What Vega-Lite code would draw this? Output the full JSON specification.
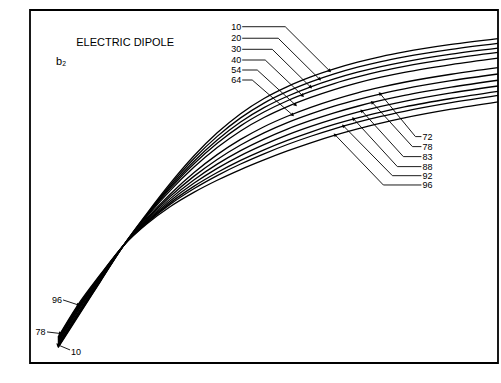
{
  "$schema": "https://vega.github.io/schema/vega-lite/v6.json",
  "width": 468,
  "height": 353,
  "autosize": "none",
  "padding": {"left": 30, "top": 10, "right": 3, "bottom": 20},
  "background": "white",
  "config": {
    "view": {"stroke": "black", "strokeWidth": 1.8},
    "axis": {"grid": false, "domain": false, "labelFont": "Liberation Sans", "labelFontSize": 10, "labelColor": "black", "titleFont": "Liberation Sans", "titleColor": "black", "titleFontWeight": "normal", "titleFontSize": 10}
  },
  "datasets": {
    "curves": [
      {"z":"10","k":0.3,"b":-1.87},{"z":"10","k":0.5,"b":-1.62},{"z":"10","k":0.75,"b":-1.31},{"z":"10","k":1,"b":-1},{"z":"10","k":1.25,"b":-0.728},{"z":"10","k":1.5,"b":-0.472},{"z":"10","k":1.75,"b":-0.241},{"z":"10","k":2,"b":-0.044},{"z":"10","k":2.25,"b":0.119},{"z":"10","k":2.5,"b":0.248},{"z":"10","k":2.75,"b":0.349},{"z":"10","k":3,"b":0.431},{"z":"10","k":3.25,"b":0.499},{"z":"10","k":3.5,"b":0.556},{"z":"10","k":3.75,"b":0.604},{"z":"10","k":4,"b":0.644},{"z":"10","k":4.5,"b":0.707},{"z":"10","k":5,"b":0.757},
      {"z":"20","k":0.3,"b":-1.863},{"z":"20","k":0.5,"b":-1.613},{"z":"20","k":0.75,"b":-1.306},{"z":"20","k":1,"b":-1},{"z":"20","k":1.25,"b":-0.735},{"z":"20","k":1.5,"b":-0.487},{"z":"20","k":1.75,"b":-0.264},{"z":"20","k":2,"b":-0.074},{"z":"20","k":2.25,"b":0.083},{"z":"20","k":2.5,"b":0.209},{"z":"20","k":2.75,"b":0.308},{"z":"20","k":3,"b":0.389},{"z":"20","k":3.25,"b":0.457},{"z":"20","k":3.5,"b":0.514},{"z":"20","k":3.75,"b":0.562},{"z":"20","k":4,"b":0.602},{"z":"20","k":4.5,"b":0.666},{"z":"20","k":5,"b":0.717},
      {"z":"30","k":0.3,"b":-1.857},{"z":"30","k":0.5,"b":-1.605},{"z":"30","k":0.75,"b":-1.301},{"z":"30","k":1,"b":-1},{"z":"30","k":1.25,"b":-0.741},{"z":"30","k":1.5,"b":-0.502},{"z":"30","k":1.75,"b":-0.287},{"z":"30","k":2,"b":-0.104},{"z":"30","k":2.25,"b":0.048},{"z":"30","k":2.5,"b":0.17},{"z":"30","k":2.75,"b":0.267},{"z":"30","k":3,"b":0.347},{"z":"30","k":3.25,"b":0.414},{"z":"30","k":3.5,"b":0.471},{"z":"30","k":3.75,"b":0.519},{"z":"30","k":4,"b":0.56},{"z":"30","k":4.5,"b":0.625},{"z":"30","k":5,"b":0.676},
      {"z":"40","k":0.3,"b":-1.85},{"z":"40","k":0.5,"b":-1.598},{"z":"40","k":0.75,"b":-1.297},{"z":"40","k":1,"b":-1},{"z":"40","k":1.25,"b":-0.748},{"z":"40","k":1.5,"b":-0.516},{"z":"40","k":1.75,"b":-0.309},{"z":"40","k":2,"b":-0.133},{"z":"40","k":2.25,"b":0.015},{"z":"40","k":2.5,"b":0.133},{"z":"40","k":2.75,"b":0.229},{"z":"40","k":3,"b":0.308},{"z":"40","k":3.25,"b":0.375},{"z":"40","k":3.5,"b":0.431},{"z":"40","k":3.75,"b":0.48},{"z":"40","k":4,"b":0.521},{"z":"40","k":4.5,"b":0.586},{"z":"40","k":5,"b":0.639},
      {"z":"54","k":0.3,"b":-1.842},{"z":"54","k":0.5,"b":-1.589},{"z":"54","k":0.75,"b":-1.291},{"z":"54","k":1,"b":-1},{"z":"54","k":1.25,"b":-0.756},{"z":"54","k":1.5,"b":-0.533},{"z":"54","k":1.75,"b":-0.337},{"z":"54","k":2,"b":-0.169},{"z":"54","k":2.25,"b":-0.028},{"z":"54","k":2.5,"b":0.086},{"z":"54","k":2.75,"b":0.179},{"z":"54","k":3,"b":0.257},{"z":"54","k":3.25,"b":0.324},{"z":"54","k":3.5,"b":0.381},{"z":"54","k":3.75,"b":0.429},{"z":"54","k":4,"b":0.47},{"z":"54","k":4.5,"b":0.536},{"z":"54","k":5,"b":0.591},
      {"z":"64","k":0.3,"b":-1.829},{"z":"64","k":0.5,"b":-1.574},{"z":"64","k":0.75,"b":-1.282},{"z":"64","k":1,"b":-1},{"z":"64","k":1.25,"b":-0.769},{"z":"64","k":1.5,"b":-0.563},{"z":"64","k":1.75,"b":-0.383},{"z":"64","k":2,"b":-0.229},{"z":"64","k":2.25,"b":-0.1},{"z":"64","k":2.5,"b":0.008},{"z":"64","k":2.75,"b":0.097},{"z":"64","k":3,"b":0.173},{"z":"64","k":3.25,"b":0.239},{"z":"64","k":3.5,"b":0.296},{"z":"64","k":3.75,"b":0.344},{"z":"64","k":4,"b":0.386},{"z":"64","k":4.5,"b":0.454},{"z":"64","k":5,"b":0.51},
      {"z":"72","k":0.3,"b":-1.82},{"z":"72","k":0.5,"b":-1.564},{"z":"72","k":0.75,"b":-1.276},{"z":"72","k":1,"b":-1},{"z":"72","k":1.25,"b":-0.778},{"z":"72","k":1.5,"b":-0.583},{"z":"72","k":1.75,"b":-0.414},{"z":"72","k":2,"b":-0.27},{"z":"72","k":2.25,"b":-0.147},{"z":"72","k":2.5,"b":-0.044},{"z":"72","k":2.75,"b":0.043},{"z":"72","k":3,"b":0.117},{"z":"72","k":3.25,"b":0.183},{"z":"72","k":3.5,"b":0.239},{"z":"72","k":3.75,"b":0.288},{"z":"72","k":4,"b":0.33},{"z":"72","k":4.5,"b":0.399},{"z":"72","k":5,"b":0.456},
      {"z":"78","k":0.3,"b":-1.811},{"z":"78","k":0.5,"b":-1.554},{"z":"78","k":0.75,"b":-1.27},{"z":"78","k":1,"b":-1},{"z":"78","k":1.25,"b":-0.787},{"z":"78","k":1.5,"b":-0.603},{"z":"78","k":1.75,"b":-0.445},{"z":"78","k":2,"b":-0.31},{"z":"78","k":2.25,"b":-0.195},{"z":"78","k":2.5,"b":-0.097},{"z":"78","k":2.75,"b":-0.012},{"z":"78","k":3,"b":0.061},{"z":"78","k":3.25,"b":0.126},{"z":"78","k":3.5,"b":0.182},{"z":"78","k":3.75,"b":0.231},{"z":"78","k":4,"b":0.274},{"z":"78","k":4.5,"b":0.344},{"z":"78","k":5,"b":0.403},
      {"z":"83","k":0.3,"b":-1.803},{"z":"83","k":0.5,"b":-1.545},{"z":"83","k":0.75,"b":-1.265},{"z":"83","k":1,"b":-1},{"z":"83","k":1.25,"b":-0.795},{"z":"83","k":1.5,"b":-0.621},{"z":"83","k":1.75,"b":-0.473},{"z":"83","k":2,"b":-0.346},{"z":"83","k":2.25,"b":-0.237},{"z":"83","k":2.5,"b":-0.144},{"z":"83","k":2.75,"b":-0.061},{"z":"83","k":3,"b":0.011},{"z":"83","k":3.25,"b":0.075},{"z":"83","k":3.5,"b":0.132},{"z":"83","k":3.75,"b":0.18},{"z":"83","k":4,"b":0.223},{"z":"83","k":4.5,"b":0.295},{"z":"83","k":5,"b":0.354},
      {"z":"88","k":0.3,"b":-1.795},{"z":"88","k":0.5,"b":-1.537},{"z":"88","k":0.75,"b":-1.26},{"z":"88","k":1,"b":-1},{"z":"88","k":1.25,"b":-0.802},{"z":"88","k":1.5,"b":-0.637},{"z":"88","k":1.75,"b":-0.499},{"z":"88","k":2,"b":-0.381},{"z":"88","k":2.25,"b":-0.278},{"z":"88","k":2.5,"b":-0.188},{"z":"88","k":2.75,"b":-0.108},{"z":"88","k":3,"b":-0.037},{"z":"88","k":3.25,"b":0.027},{"z":"88","k":3.5,"b":0.083},{"z":"88","k":3.75,"b":0.132},{"z":"88","k":4,"b":0.176},{"z":"88","k":4.5,"b":0.248},{"z":"88","k":5,"b":0.309},
      {"z":"92","k":0.3,"b":-1.789},{"z":"92","k":0.5,"b":-1.53},{"z":"92","k":0.75,"b":-1.256},{"z":"92","k":1,"b":-1},{"z":"92","k":1.25,"b":-0.808},{"z":"92","k":1.5,"b":-0.65},{"z":"92","k":1.75,"b":-0.519},{"z":"92","k":2,"b":-0.407},{"z":"92","k":2.25,"b":-0.309},{"z":"92","k":2.5,"b":-0.222},{"z":"92","k":2.75,"b":-0.143},{"z":"92","k":3,"b":-0.073},{"z":"92","k":3.25,"b":-0.01},{"z":"92","k":3.5,"b":0.047},{"z":"92","k":3.75,"b":0.096},{"z":"92","k":4,"b":0.139},{"z":"92","k":4.5,"b":0.212},{"z":"92","k":5,"b":0.274},
      {"z":"96","k":0.3,"b":-1.78},{"z":"96","k":0.5,"b":-1.52},{"z":"96","k":0.75,"b":-1.25},{"z":"96","k":1,"b":-1},{"z":"96","k":1.25,"b":-0.817},{"z":"96","k":1.5,"b":-0.67},{"z":"96","k":1.75,"b":-0.55},{"z":"96","k":2,"b":-0.447},{"z":"96","k":2.25,"b":-0.356},{"z":"96","k":2.5,"b":-0.274},{"z":"96","k":2.75,"b":-0.198},{"z":"96","k":3,"b":-0.129},{"z":"96","k":3.25,"b":-0.066},{"z":"96","k":3.5,"b":-0.01},{"z":"96","k":3.75,"b":0.039},{"z":"96","k":4,"b":0.083},{"z":"96","k":4.5,"b":0.157},{"z":"96","k":5,"b":0.22}
    ],
    "leaders": [
      {"id":"10","s":0,"k":2.267,"b":0.858},{"id":"10","s":1,"k":2.727,"b":0.858},{"id":"10","s":2,"k":3.198,"b":0.485},
      {"id":"20","s":0,"k":2.267,"b":0.76},{"id":"20","s":1,"k":2.652,"b":0.76},{"id":"20","s":2,"k":3.091,"b":0.414},
      {"id":"30","s":0,"k":2.267,"b":0.666},{"id":"30","s":1,"k":2.588,"b":0.666},{"id":"30","s":2,"k":2.995,"b":0.347},
      {"id":"40","s":0,"k":2.267,"b":0.575},{"id":"40","s":1,"k":2.513,"b":0.575},{"id":"40","s":2,"k":2.909,"b":0.275},
      {"id":"54","s":0,"k":2.267,"b":0.49},{"id":"54","s":1,"k":2.428,"b":0.49},{"id":"54","s":2,"k":2.834,"b":0.195},
      {"id":"64","s":0,"k":2.267,"b":0.405},{"id":"64","s":1,"k":2.374,"b":0.405},{"id":"64","s":2,"k":2.802,"b":0.11},
      {"id":"72","s":0,"k":4.182,"b":-0.076},{"id":"72","s":1,"k":4.118,"b":-0.076},{"id":"72","s":2,"k":3.743,"b":0.287},
      {"id":"78","s":0,"k":4.182,"b":-0.161},{"id":"78","s":1,"k":4.086,"b":-0.161},{"id":"78","s":2,"k":3.658,"b":0.213},
      {"id":"83","s":0,"k":4.182,"b":-0.246},{"id":"83","s":1,"k":3.989,"b":-0.246},{"id":"83","s":2,"k":3.547,"b":0.141},
      {"id":"88","s":0,"k":4.182,"b":-0.331},{"id":"88","s":1,"k":3.925,"b":-0.331},{"id":"88","s":2,"k":3.458,"b":0.074},
      {"id":"92","s":0,"k":4.182,"b":-0.408},{"id":"92","s":1,"k":3.872,"b":-0.408},{"id":"92","s":2,"k":3.351,"b":0.013},
      {"id":"96","s":0,"k":4.182,"b":-0.487},{"id":"96","s":1,"k":3.775,"b":-0.487},{"id":"96","s":2,"k":3.262,"b":-0.063},
      {"id":"b96","s":0,"k":0.353,"b":-1.464},{"id":"b96","s":1,"k":0.513,"b":-1.506},
      {"id":"b78","s":0,"k":0.182,"b":-1.736},{"id":"b78","s":1,"k":0.321,"b":-1.749},
      {"id":"b10","s":0,"k":0.428,"b":-1.889},{"id":"b10","s":1,"k":0.299,"b":-1.846}
    ],
    "tipsDR": [
      {"k":3.198,"b":0.485},{"k":3.091,"b":0.414},{"k":2.995,"b":0.347},{"k":2.909,"b":0.275},{"k":2.834,"b":0.195},{"k":2.802,"b":0.11}
    ],
    "tipsUL": [
      {"k":3.743,"b":0.287},{"k":3.658,"b":0.213},{"k":3.547,"b":0.141},{"k":3.458,"b":0.074},{"k":3.351,"b":0.013},{"k":3.262,"b":-0.063},{"k":0.299,"b":-1.846}
    ],
    "tipsR": [
      {"k":0.513,"b":-1.506},{"k":0.321,"b":-1.749}
    ],
    "labels": [
      {"t":"10","k":2.203,"b":0.858},{"t":"20","k":2.203,"b":0.76},{"t":"30","k":2.203,"b":0.666},{"t":"40","k":2.203,"b":0.575},{"t":"54","k":2.203,"b":0.49},{"t":"64","k":2.203,"b":0.405},
      {"t":"72","k":4.246,"b":-0.076},{"t":"78","k":4.246,"b":-0.161},{"t":"83","k":4.246,"b":-0.246},{"t":"88","k":4.246,"b":-0.331},{"t":"92","k":4.246,"b":-0.408},{"t":"96","k":4.246,"b":-0.487},
      {"t":"96","k":0.289,"b":-1.464},{"t":"78","k":0.112,"b":-1.736},{"t":"10","k":0.492,"b":-1.906}
    ],
    "titles": [
      {"t":"ELECTRIC  DIPOLE","k":1.016,"b":0.72},{"t":"b₂","k":0.332,"b":0.558}
    ]
  },
  "layer": [
    {
      "data": {"name": "curves"},
      "mark": {"type": "line", "color": "black", "strokeWidth": 1.3, "interpolate": "monotone"},
      "encoding": {
        "x": {"field": "k", "type": "quantitative", "scale": {"domain": [0, 5], "nice": false, "zero": false},
          "axis": {"orient": "bottom", "values": [0.25, 0.5, 0.75, 1, 1.25, 1.5, 1.75, 2, 2.25, 2.5, 2.75, 3, 3.25, 3.5, 3.75, 4, 4.25, 4.5, 4.75, 5], "labelExpr": "datum.value % 1 === 0 ? format(datum.value, '.1f') : ''", "ticks": true, "tickSize": -7, "tickColor": "black", "tickWidth": 1.2, "labelPadding": 10, "title": "k", "titlePadding": 0, "labelFlush": false, "labelOverlap": false}},
        "y": {"field": "b", "type": "quantitative", "scale": {"domain": [-2, 1], "nice": false, "zero": false},
          "axis": {"orient": "left", "values": [-2, -1.9, -1.8, -1.7, -1.6, -1.5, -1.4, -1.3, -1.2, -1.1, -1, -0.9, -0.8, -0.7, -0.6, -0.5, -0.4, -0.3, -0.2, -0.1, 0, 0.1, 0.2, 0.3, 0.4, 0.5, 0.6, 0.7, 0.8, 0.9, 1], "labelExpr": "abs(datum.value * 2 - round(datum.value * 2)) < 0.001 ? (datum.value == 0 ? '0' : replace(format(datum.value, '.1f'), '−', '-')) : ''", "ticks": true, "tickSize": -6, "tickColor": "black", "tickWidth": 1.2, "labelPadding": 9, "title": null, "labelFlush": false, "labelOverlap": false}},
        "detail": {"field": "z"}
      }
    },
    {
      "data": {"name": "leaders"},
      "mark": {"type": "line", "color": "black", "strokeWidth": 0.9},
      "encoding": {
        "x": {"field": "k", "type": "quantitative", "axis": null},
        "y": {"field": "b", "type": "quantitative", "axis": null},
        "detail": {"field": "id"},
        "order": {"field": "s"}
      }
    },
    {
      "data": {"name": "tipsDR"},
      "mark": {"type": "point", "shape": "triangle", "angle": 135, "filled": true, "color": "black", "size": 16, "opacity": 1},
      "encoding": {"x": {"field": "k", "type": "quantitative", "axis": null}, "y": {"field": "b", "type": "quantitative", "axis": null}}
    },
    {
      "data": {"name": "tipsUL"},
      "mark": {"type": "point", "shape": "triangle", "angle": 315, "filled": true, "color": "black", "size": 16, "opacity": 1},
      "encoding": {"x": {"field": "k", "type": "quantitative", "axis": null}, "y": {"field": "b", "type": "quantitative", "axis": null}}
    },
    {
      "data": {"name": "tipsR"},
      "mark": {"type": "point", "shape": "triangle", "angle": 100, "filled": true, "color": "black", "size": 16, "opacity": 1},
      "encoding": {"x": {"field": "k", "type": "quantitative", "axis": null}, "y": {"field": "b", "type": "quantitative", "axis": null}}
    },
    {
      "data": {"name": "labels"},
      "mark": {"type": "text", "font": "Liberation Sans", "fontSize": 9, "color": "black", "align": "center", "baseline": "middle"},
      "encoding": {"x": {"field": "k", "type": "quantitative", "axis": null}, "y": {"field": "b", "type": "quantitative", "axis": null}, "text": {"field": "t"}}
    },
    {
      "data": {"name": "titles"},
      "mark": {"type": "text", "font": "Liberation Sans", "fontSize": 11, "color": "black", "align": "center", "baseline": "middle"},
      "encoding": {"x": {"field": "k", "type": "quantitative", "axis": null}, "y": {"field": "b", "type": "quantitative", "axis": null}, "text": {"field": "t"}}
    }
  ]
}
